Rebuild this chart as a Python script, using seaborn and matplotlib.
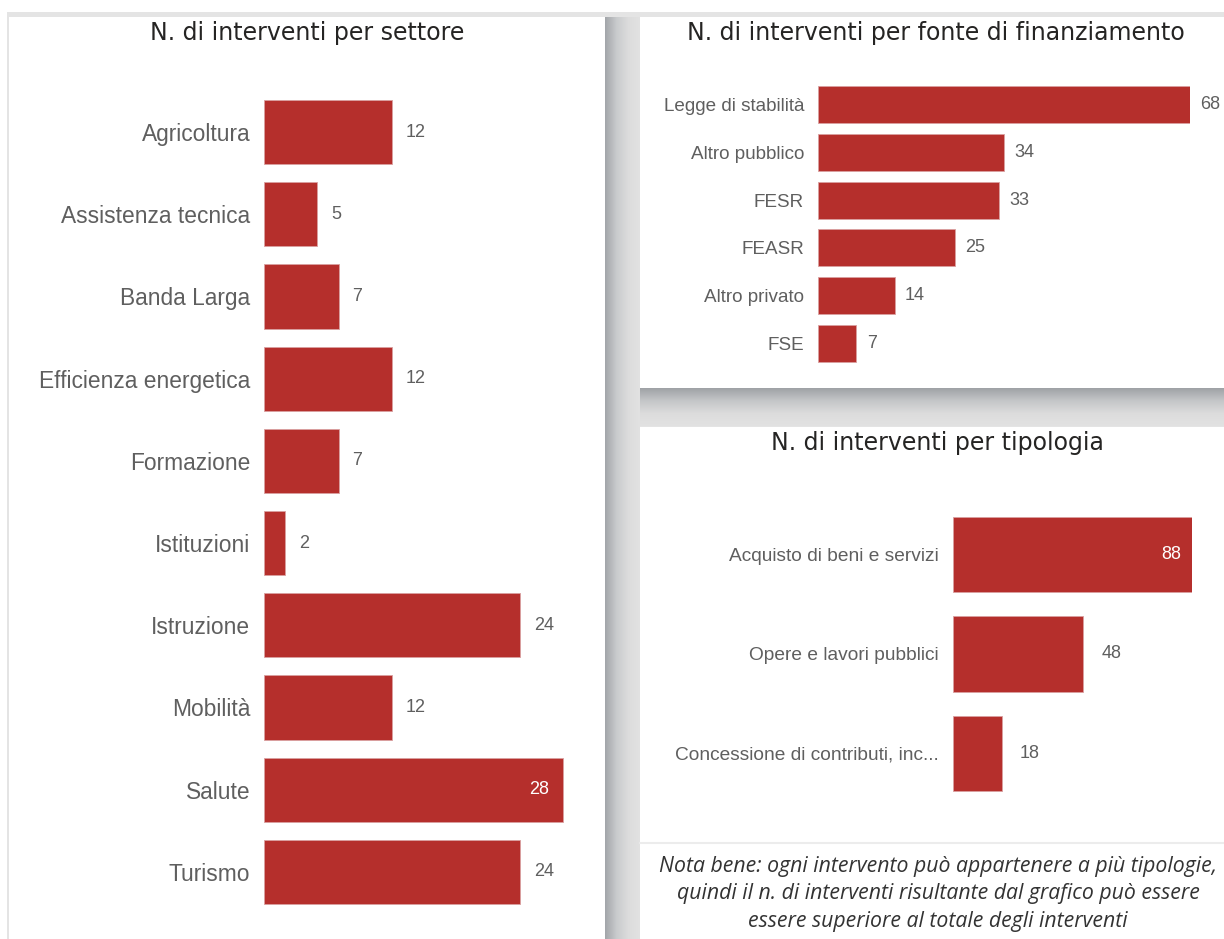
import numpy as np
import pandas as pd
import matplotlib
matplotlib.use("Agg")
import matplotlib.pyplot as plt
import seaborn as sns
from matplotlib.patches import Rectangle

# ---------------- data ----------------
settori = ["Agricoltura", "Assistenza tecnica", "Banda Larga", "Efficienza energetica",
           "Formazione", "Istituzioni", "Istruzione", "Mobilità", "Salute", "Turismo"]
settori_n = [12, 5, 7, 12, 7, 2, 24, 12, 28, 24]

fonti = ["Legge di stabilità", "Altro pubblico", "FESR", "FEASR", "Altro privato", "FSE"]
fonti_n = [68, 34, 33, 25, 14, 7]

tipologie = ["Acquisto di beni e servizi", "Opere e lavori pubblici",
             "Concessione di contributi, inc..."]
tipologie_n = [88, 48, 18]

titles = ["N. di interventi per settore",
          "N. di interventi per fonte di finanziamento",
          "N. di interventi per tipologia"]
note = ("Nota bene: ogni intervento può appartenere a più tipologie,\n"
        "quindi il n. di interventi risultante dal grafico può essere\n"
        "essere superiore al totale degli interventi")

# ---------------- style ----------------
sns.set_theme(style="white")
LABEL_FONT = ["Liberation Sans", "DejaVu Sans"]
TITLE_FONT = ["DejaVu Sans"]
plt.rcParams["font.family"] = LABEL_FONT

BAR = "#B52F2C"
LBL = "#5f5f5f"
W, H = 1224, 939
fig = plt.figure(figsize=(W / 100, H / 100), dpi=100, facecolor="white")

# background layer in pixel coordinates
bg = fig.add_axes([0, 0, 1, 1], zorder=-10)
bg.set_xlim(0, W)
bg.set_ylim(H, 0)
bg.axis("off")
bg.add_patch(Rectangle((7, 12), W - 7, H - 12, color="#e4e4e4", lw=0))
grad_h = np.linspace(0, 1, 64)[None, :]
bg.imshow(grad_h, extent=(605, 640, H, 17), cmap=matplotlib.colors.LinearSegmentedColormap.from_list(
    "s1", ["#a3a6aa", "#c9cbcd", "#dcdcdc", "#e2e2e2"]), aspect="auto", zorder=1)
grad_v = np.linspace(0, 1, 64)[:, None]
bg.imshow(grad_v, extent=(640, W, 426, 388), cmap=matplotlib.colors.LinearSegmentedColormap.from_list(
    "s2", ["#9fa2a6", "#c4c6c8", "#dcdcdc", "#e2e2e2"]), aspect="auto", zorder=1)
bg.add_patch(Rectangle((9, 17), 596, H - 17, color="white", lw=0, zorder=2))
bg.add_patch(Rectangle((640, 17), W - 640, 371, color="white", lw=0, zorder=2))
bg.add_patch(Rectangle((640, 427), W - 640, H - 427, color="white", lw=0, zorder=2))
bg.plot([640, W], [843, 843], color="#ececec", lw=1.5, zorder=3)

# titles
bg.text(307, 33, titles[0], ha="center", va="center", fontsize=17, color="#252423",
        family=TITLE_FONT, zorder=4)
bg.text(936, 33, titles[1], ha="center", va="center", fontsize=17, color="#252423",
        family=TITLE_FONT, zorder=4)
bg.text(937, 443, titles[2], ha="center", va="center", fontsize=17, color="#252423",
        family=TITLE_FONT, zorder=4)
bg.text(938, 894, note, ha="center", va="center", fontsize=15.3, color="#333333",
        style="italic", linespacing=1.38, family=["Open Sans", "DejaVu Sans"], zorder=4)


def add_ax(x0, y0, x1, y1):
    return fig.add_axes([x0 / W, 1 - y1 / H, (x1 - x0) / W, (y1 - y0) / H])


def hbar(ax, cats, vals, xmax, width, lab_size, val_size, pad_frac, inside_max):
    df = pd.DataFrame({"cat": cats, "n": vals})
    sns.barplot(data=df, x="n", y="cat", orient="h", color=BAR, saturation=1,
                width=width, ax=ax, edgecolor="#d9a0a0", linewidth=0.6)
    ax.set_xlim(0, xmax)
    ax.set_ylim(len(cats) - 0.5, -0.5)
    ax.set_xlabel("")
    ax.set_ylabel("")
    ax.set_xticks([])
    ax.tick_params(axis="y", length=0, pad=10, labelsize=lab_size, labelcolor=LBL)
    for s in ax.spines.values():
        s.set_visible(False)
    ax.patch.set_alpha(0)
    vmax = max(vals)
    for i, v in enumerate(vals):
        if inside_max and v == vmax:
            ax.text(v - 0.045 * xmax, i, str(v), ha="right", va="center",
                    color="white", fontsize=val_size)
        else:
            ax.text(v + pad_frac * xmax, i, str(v), ha="left", va="center",
                    color=LBL, fontsize=val_size)


ax1 = add_ax(264, 91, 564, 913)
hbar(ax1, settori, settori_n, 28.1, 0.78, 16.4, 13, 0.045, True)

ax2 = add_ax(818, 81, 1190, 367)
hbar(ax2, fonti, fonti_n, 68, 0.78, 13.6, 13, 0.028, False)

ax3 = add_ax(953, 505, 1192, 803)
hbar(ax3, tipologie, tipologie_n, 88, 0.76, 13.8, 13, 0.075, True)

fig.savefig("out.png", dpi=100, facecolor="white")
